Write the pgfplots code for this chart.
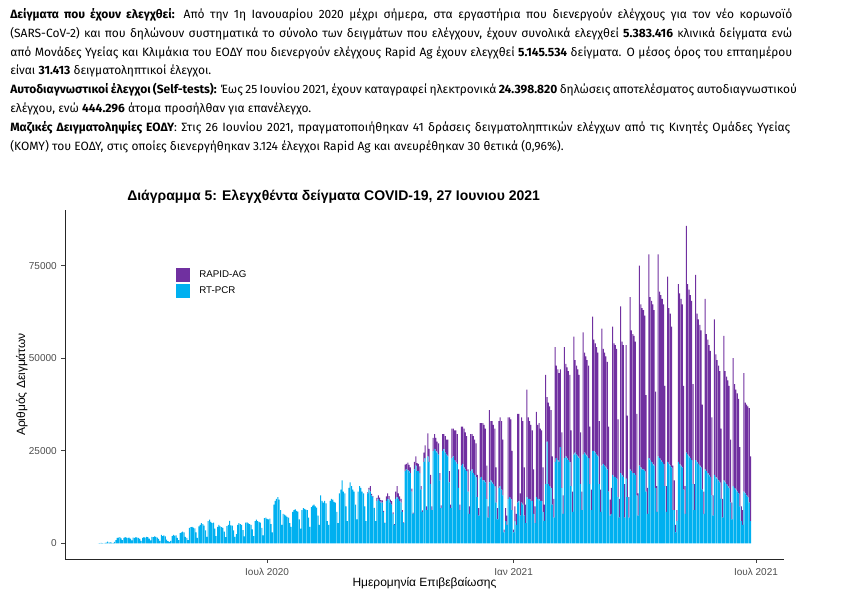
\documentclass[border=0pt]{standalone}
\usepackage{pgfplots}
\pgfplotsset{compat=1.18}
\usepackage{pgfplotstable}
\usepackage{fontspec}
\setmainfont{Liberation Sans}
\newfontfamily\fira{Fira Sans}
\definecolor{rapid}{HTML}{7030A0}
\definecolor{rtpcr}{HTML}{00B0F0}

% d = days from 1 Jan 2021, pcr = RT-PCR, rag = RAPID-AG
\pgfplotstableread{
d pcr rag
-310 30 0
-309 60 0
-308 120 0
-307 90 0
-306 40 0
-305 150 0
-304 200 0
-303 500 0
-302 250 0
-301 300 0
-300 200 0
-299 100 0
-298 400 0
-297 900 0
-296 1500 0
-295 1600 0
-294 1700 0
-293 1400 0
-292 900 0
-291 1500 0
-290 1700 0
-289 1600 0
-288 1500 0
-287 1600 0
-286 1300 0
-285 800 0
-284 1600 0
-283 1500 0
-282 1700 0
-281 1600 0
-280 1500 0
-279 1200 0
-278 700 0
-277 1500 0
-276 1700 0
-275 1600 0
-274 1800 0
-273 1700 0
-272 1300 0
-271 800 0
-270 1800 0
-269 1700 0
-268 1900 0
-267 1800 0
-266 1600 0
-265 1200 0
-264 700 0
-263 2300 0
-262 2000 0
-261 2200 0
-260 1900 0
-259 1000 0
-258 600 0
-257 400 0
-256 700 0
-255 2000 0
-254 2300 0
-253 2100 0
-252 2200 0
-251 1500 0
-250 900 0
-249 2800 0
-248 3000 0
-247 3200 0
-246 3000 0
-245 1800 0
-244 1500 0
-243 900 0
-242 4200 0
-241 4400 0
-240 4500 0
-239 4300 0
-238 4100 0
-237 3000 0
-236 1500 0
-235 4600 0
-234 5000 0
-233 5500 0
-232 5200 0
-231 4800 0
-230 3500 0
-229 1800 0
-228 6000 0
-227 6400 0
-226 5800 0
-225 5500 0
-224 5600 0
-223 4000 0
-222 2000 0
-221 4500 0
-220 5000 0
-219 4600 0
-218 4400 0
-217 4200 0
-216 3200 0
-215 1700 0
-214 4700 0
-213 5000 0
-212 6100 0
-211 4900 0
-210 4800 0
-209 3500 0
-208 1800 0
-207 2500 0
-206 5000 0
-205 5500 0
-204 5200 0
-203 5000 0
-202 3600 0
-201 1900 0
-200 5600 0
-199 5700 0
-198 5400 0
-197 5200 0
-196 5000 0
-195 3800 0
-194 2000 0
-193 6000 0
-192 6400 0
-191 6000 0
-190 5800 0
-189 5600 0
-188 4200 0
-187 2200 0
-186 6800 0
-185 7000 0
-184 6600 0
-183 6500 0
-182 6700 0
-181 5200 0
-180 3000 0
-179 10500 0
-178 11500 0
-177 12000 0
-176 12500 0
-175 11800 0
-174 9000 0
-173 5000 0
-172 8000 0
-171 7800 0
-170 7500 0
-169 7200 0
-168 7000 0
-167 5500 0
-166 4500 0
-165 8500 0
-164 9000 0
-163 9200 0
-162 8800 0
-161 8600 0
-160 6500 0
-159 4000 0
-158 9000 0
-157 9500 0
-156 9300 0
-155 9100 0
-154 9000 0
-153 7000 0
-152 4500 0
-151 9800 0
-150 10200 0
-149 10500 0
-148 10000 0
-147 9700 0
-146 7500 0
-145 5000 0
-144 13000 0
-143 11500 0
-142 11000 0
-141 11500 0
-140 10800 0
-139 6000 0
-138 5000 0
-137 11500 0
-136 12000 0
-135 11800 0
-134 11200 0
-133 11000 0
-132 8500 0
-131 5500 0
-130 13500 0
-129 14500 0
-128 17000 0
-127 14000 0
-126 13500 0
-125 10000 0
-124 6000 0
-123 15000 0
-122 16500 0
-121 15500 0
-120 14500 0
-119 14000 0
-118 10500 0
-117 6500 0
-116 14000 0
-115 15500 0
-114 15000 0
-113 14000 0
-112 13500 0
-111 10000 0
-110 6000 0
-109 13500 300
-108 14500 500
-107 14000 1500
-106 13000 400
-105 12500 300
-104 9500 100
-103 6000 0
-102 11500 800
-101 12000 1000
-100 11500 900
-99 11000 700
-98 11000 600
-97 8500 300
-96 5500 100
-95 11500 1200
-94 12000 1500
-93 11800 1000
-92 11000 800
-91 10500 900
-90 8000 400
-89 5000 200
-88 12000 2000
-87 12500 3000
-86 12000 1500
-85 11500 1200
-84 11000 1000
-83 8500 500
-82 5500 200
-81 19500 1800
-80 20000 1500
-79 19800 2000
-78 19500 1700
-77 19000 1500
-76 14000 800
-75 8000 300
-74 20000 2000
-73 21000 2500
-72 19500 2200
-71 19500 2000
-70 19000 1800
-69 14500 1000
-68 8500 400
-67 22000 2500
-66 23000 3500
-65 9000 1000
-64 23500 6200
-63 22000 3500
-62 16000 2500
-61 9000 1000
-60 25000 3500
-59 25500 4000
-58 25000 3500
-57 24500 3000
-56 24000 3000
-55 17000 2000
-54 9500 800
-53 25000 4500
-52 25500 4000
-51 24500 4500
-50 24000 4000
-49 23500 4500
-48 16500 3000
-47 9500 1000
-46 23000 8000
-45 23500 7500
-44 22500 8000
-43 22000 8500
-42 21500 8000
-41 15000 5000
-40 9000 1500
-39 21000 10500
-38 21500 10000
-37 20500 10500
-36 20000 10000
-35 19500 9500
-34 14000 6000
-33 8000 2000
-32 19500 10000
-31 20000 9500
-30 19000 10000
-29 18500 9500
-28 18000 9000
-27 12500 6000
-26 7500 2000
-25 17500 15000
-24 18000 14500
-23 17000 15500
-22 17000 15000
-21 16500 14500
-20 12000 9000
-19 7000 3000
-18 16500 19500
-17 17000 16000
-16 16500 16500
-15 16000 16000
-14 15500 15500
-13 11000 9500
-12 6500 3000
-11 15000 18000
-10 15500 18500
-9 14500 18500
-8 13000 15000
-7 3000 700
-6 6000 3500
-5 5000 2500
-4 12000 22000
-3 12500 21500
-2 12000 21500
-1 9000 16000
0 3000 700
1 6000 4000
2 5000 3000
3 11000 24000
4 11500 23500
5 7500 6000
6 11000 23000
7 10500 22500
8 7500 13000
9 5500 5000
10 12500 29000
11 12000 22000
12 12000 21000
13 11500 20500
14 11500 19000
15 8000 12000
16 5500 4500
17 12500 23000
18 12000 20000
19 12000 20500
20 11500 19500
21 11500 19000
22 8500 12000
23 6000 4500
24 16000 29500
25 27500 12000
26 16000 22000
27 15500 21500
28 15000 21000
29 10500 13000
30 7000 5000
31 22000 31000
32 23000 25000
33 22500 24500
34 22000 24000
35 26000 21000
36 15000 15000
37 8000 5000
38 23000 30000
39 23500 25000
40 23000 24500
41 22500 24000
42 22000 23500
43 15500 15000
44 8500 5500
45 24000 31800
46 24500 25000
47 24000 24000
48 23500 23500
49 23000 22500
50 16000 14000
51 9000 5000
52 24000 33000
53 24500 27000
54 24000 26500
55 23500 26000
56 23000 25000
57 16000 15500
58 9000 5500
59 25000 36200
60 25000 30000
61 24500 29500
62 24000 29000
63 23500 28000
64 16000 17000
65 8500 6000
66 21000 37000
67 21500 31000
68 21000 30500
69 20500 30000
70 20000 29000
71 14000 17500
72 7500 4300
73 8000 7000
74 18500 40000
75 18000 36000
76 18000 35500
77 17500 35000
78 12500 21000
79 7000 5000
80 19000 45000
81 18500 36000
82 18000 35500
83 7000 9000
84 17500 36000
85 12500 22000
86 7000 5500
87 20000 46500
88 19500 38000
89 19000 37500
90 19000 37000
91 18500 36000
92 13000 22000
93 7500 6000
94 21000 54000
95 20500 44000
96 20000 43500
97 20000 43000
98 19500 42000
99 14000 26000
100 8000 7000
101 23000 55000
102 22500 44000
103 22000 43500
104 21500 43000
105 21000 42000
106 15000 26000
107 8500 7000
108 23500 54500
109 23000 45000
110 22500 44500
111 22000 44000
112 21500 43000
113 15500 27000
114 8500 7000
115 22000 50000
116 21500 42000
117 21000 41000
118 20500 38000
119 9000 12000
120 9000 8000
121 3000 2000
122 6000 3000
123 22000 48000
124 21500 46000
125 21000 45000
126 20500 44000
127 14500 28000
128 8000 7500
129 24500 61200
130 24000 46000
131 23500 45000
132 23000 44000
133 22500 43000
134 16000 27000
135 9000 7000
136 22500 50000
137 22000 40000
138 21500 39000
139 21000 38000
140 20500 37000
141 14500 23000
142 8000 6000
143 20000 46000
144 19500 37000
145 19000 36000
146 18500 35000
147 18000 34000
148 13000 21000
149 7500 5500
150 18500 42000
151 18000 33000
152 17500 32000
153 17000 31000
154 16500 30000
155 12000 19000
156 7000 5000
157 17000 39000
158 16500 30000
159 16000 29000
160 15500 28500
161 15000 27500
162 11000 17000
163 6500 4500
164 15500 34500
165 15000 28000
166 14500 27000
167 14000 26500
168 13500 25500
169 10000 16000
170 6000 4000
171 5000 4000
172 14000 32000
173 13500 24500
174 13000 24500
175 12500 24500
176 11000 25500
177 6000 17500
}\tests

\begin{document}
\begin{tikzpicture}[x=0.75pt,y=0.75pt]
\useasboundingbox (0,0) rectangle (868,608);

% text above the chart
\begin{scope}[every node/.style={anchor=base west, inner sep=0pt, font=\fira\fontsize{9pt}{10.5pt}\selectfont}]
\node at (10,589.5) {\makebox[586.5pt][s]{\textbf{Δείγματα που έχουν ελεγχθεί:} Από την 1η Ιανουαρίου 2020 μέχρι σήμερα, στα εργαστήρια που διενεργούν ελέγχους για τον νέο κορωνοϊό}};
\node at (10,570.7) {\makebox[586.5pt][s]{(SARS-CoV-2) και που δηλώνουν συστηματικά το σύνολο των δειγμάτων που ελέγχουν, έχουν συνολικά ελεγχθεί \textbf{5.383.416} κλινικά δείγματα ενώ}};
\node at (10,551.9) {\makebox[586.5pt][s]{από Μονάδες Υγείας και Κλιμάκια του ΕΟΔΥ που διενεργούν ελέγχους Rapid Ag έχουν ελεγχθεί \textbf{5.145.534} δείγματα. Ο μέσος όρος του επταημέρου}};
\node at (10,533.1) {είναι \textbf{31.413} δειγματοληπτικοί έλεγχοι.};
\node at (10,514.3) {\makebox[590pt][s]{\textbf{Αυτοδιαγνωστικοί έλεγχοι (Self-tests):} Έως 25 Ιουνίου 2021, έχουν καταγραφεί ηλεκτρονικά \textbf{24.398.820} δηλώσεις αποτελέσματος αυτοδιαγνωστικού}};
\node at (10,495.5) {ελέγχου, ενώ \textbf{444.296} άτομα προσήλθαν για επανέλεγχο.};
\node at (10,476.7) {\makebox[585pt][s]{\textbf{Μαζικές Δειγματοληψίες ΕΟΔΥ}: Στις 26 Ιουνίου 2021, πραγματοποιήθηκαν 41 δράσεις δειγματοληπτικών ελέγχων από τις Κινητές Ομάδες Υγείας}};
\node at (10,457.9) {(ΚΟΜΥ) του ΕΟΔΥ, στις οποίες διενεργήθηκαν 3.124 έλεγχοι Rapid Ag και ανευρέθηκαν 30 θετικά (0,96\%).};
\end{scope}

\node[anchor=base west, inner sep=0pt, font=\bfseries\fontsize{10.5pt}{12pt}\selectfont] at (127,407.5)
  {Διάγραμμα 5: Ελεγχθέντα δείγματα COVID-19, 27 Ιουνιου 2021};

\begin{axis}[
    at={(48.75pt,36.75pt)}, anchor=south west,
    scale only axis,
    width=539.25pt, height=261.75pt,
    xmin=-334.9, xmax=201.9,
    ymin=-4200, ymax=90000,
    axis lines*=left,
    axis line style={black!85, line width=0.6pt},
    tick align=outside,
    major tick length=2.7pt,
    tick style={black!75, line width=0.5pt},
    xtick={-184,0,181},
    xticklabels={Ιουλ 2020,Ιαν 2021,Ιουλ 2021},
    ytick={0,25000,50000,75000},
    yticklabels={0,25000,50000,75000},
    scaled y ticks=false,
    tick label style={font=\fontsize{7.5pt}{9pt}\selectfont, text=black!70},
    xticklabel style={anchor=base, yshift=-9.75pt},
    xlabel={Ημερομηνία Επιβεβαίωσης},
    ylabel={Αριθμός Δειγμάτων},
    label style={font=\fontsize{9pt}{11pt}\selectfont},
    xlabel style={at={(axis description cs:0.5,-0.0802)}, anchor=base, inner sep=0pt},
    ylabel style={at={(axis description cs:-0.0515,0.5)}, anchor=south, inner sep=0pt},
    ybar stacked,
    bar width=0.75,
    reverse legend,
    legend cell align=left,
    legend style={at={(axis description cs:0.154,0.834)}, anchor=north west,
        draw=none, fill=none, inner sep=0pt, row sep=1pt, column sep=5pt,
        font=\fontsize{7.3pt}{8.5pt}\selectfont},
]
\addplot[fill=rtpcr, draw=none,
    legend image code/.code={\fill[rtpcr] (0pt,-5.25pt) rectangle (10.5pt,5.25pt);}]
    table[x=d, y=pcr] {\tests};
\addlegendentry{RT-PCR}
\addplot[fill=rapid, draw=none,
    legend image code/.code={\fill[rapid] (0pt,-5.25pt) rectangle (10.5pt,5.25pt);}]
    table[x=d, y=rag] {\tests};
\addlegendentry{RAPID-AG}
\end{axis}
\end{tikzpicture}
\end{document}
